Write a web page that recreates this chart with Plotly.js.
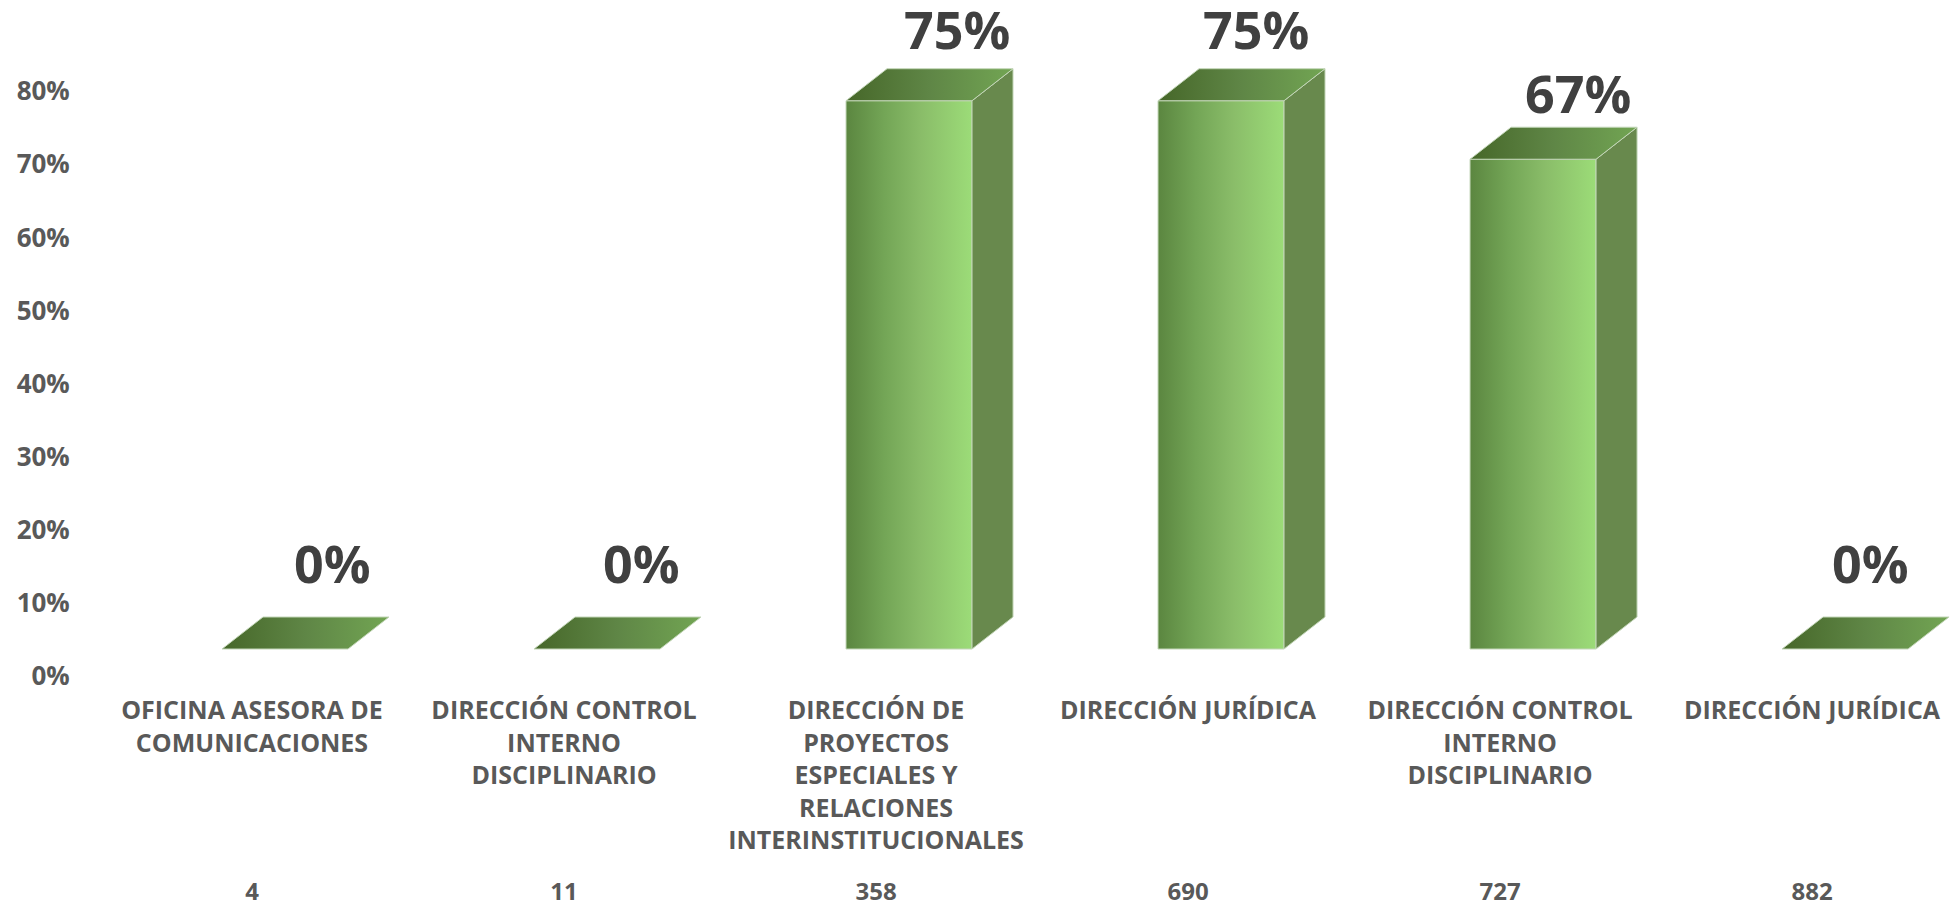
<!DOCTYPE html>
<html><head><meta charset="utf-8">
<script src="https://cdn.plot.ly/plotly-3.0.1.min.js"></script>
<style>html,body{margin:0;padding:0;background:#fff;overflow:hidden}</style></head>
<body><div id="chart" style="width:1959px;height:907px"></div>
<script>
const categories = ["OFICINA ASESORA DE<br>COMUNICACIONES","DIRECCIÓN CONTROL<br>INTERNO<br>DISCIPLINARIO","DIRECCIÓN DE<br>PROYECTOS<br>ESPECIALES Y<br>RELACIONES<br>INTERINSTITUCIONALES","DIRECCIÓN JURÍDICA","DIRECCIÓN CONTROL<br>INTERNO<br>DISCIPLINARIO","DIRECCIÓN JURÍDICA"];
const ids = ["4","11","358","690","727","882"];
const values = [0,0,75,75,67,0];
const valueLabels = ["0%","0%","75%","75%","67%","0%"];
const yTicks = [0,10,20,30,40,50,60,70,80];

// styling / layout only
const FONT = "'Open Sans', sans-serif";
const pxPerUnitY = 7.31, slotPx = 312;
const barLeft = -30/slotPx, barW = 126/slotPx, depthX = 41/slotPx, depthY = 32/pxPerUnitY;
const labelDX = [47,44,48,35,45,25], labelDY = [87,87,72,72,67,87];
const idx = categories.map((_,i)=>i);
const light = '#c3d6b8';

const traces = [];
traces.push({type:'bar',x:idx,y:values,width:barW,offset:barLeft,
  marker:{color:'#7fb05c',line:{width:0}},hoverinfo:'skip',showlegend:false});
idx.forEach(i=>{
  const v=values[i], L=i+barLeft, R=L+barW;
  if(v>0){
    traces.push({type:'scatter',mode:'lines',x:[L,R,R,L,L],y:[0,0,v,v,0],fill:'toself',
      line:{color:light,width:1},hoverinfo:'skip',showlegend:false,
      fillgradient:{type:'horizontal',start:L,stop:R,colorscale:[[0,'#5b8640'],[0.3,'#73a556'],[0.6,'#8abd69'],[1,'#9cdc78']]}});
    traces.push({type:'scatter',mode:'lines',x:[R,R+depthX,R+depthX,R,R],y:[0,depthY,v+depthY,v,0],fill:'toself',
      fillcolor:'#68894d',line:{color:light,width:1},hoverinfo:'skip',showlegend:false});
  }
  traces.push({type:'scatter',mode:'lines',x:[L,R,R+depthX,L+depthX,L],y:[v,v,v+depthY,v+depthY,v],fill:'toself',
    line:{color:light,width:1},hoverinfo:'skip',showlegend:false,
    fillgradient:{type:'horizontal',start:L,stop:R+depthX,colorscale:[[0,'#466729'],[0.5,'#5f8646'],[1,'#72a553']]}});
});
traces.push({type:'scatter',mode:'markers',x:idx,y:idx.map(()=>0),xaxis:'x2',yaxis:'y',marker:{opacity:0},hoverinfo:'skip',showlegend:false});
traces.push({type:'scatter',mode:'markers',x:idx,y:idx.map(()=>0),xaxis:'x',yaxis:'y2',marker:{opacity:0},hoverinfo:'skip',showlegend:false});

const xFont = {family:FONT,size:25,color:'#595959',weight:700};
const idFont = {family:FONT,size:24,color:'#595959',weight:700};
const yFont = {family:FONT,size:26,color:'#595959',weight:700};
const layout = {
  width:1959,height:907,margin:{l:96,r:0,t:0,b:221},paper_bgcolor:'#fff',plot_bgcolor:'rgba(0,0,0,0)',showlegend:false,
  xaxis:{range:[-0.5,5.471],tickmode:'array',tickvals:idx,ticktext:categories,tickangle:0,showgrid:false,zeroline:false,showline:false,
    ticks:'outside',ticklen:2,tickcolor:'rgba(0,0,0,0)',tickfont:xFont,automargin:false},
  xaxis2:{overlaying:'x',anchor:'y',side:'bottom',range:[-0.5,5.471],tickmode:'array',tickvals:idx,ticktext:ids,tickangle:0,showgrid:false,zeroline:false,showline:false,
    ticks:'outside',ticklen:184,tickcolor:'rgba(0,0,0,0)',tickfont:idFont,automargin:false},
  yaxis:{range:[-5.062,88.78],showgrid:false,zeroline:false,showline:false,showticklabels:false,ticks:''},
  yaxis2:{overlaying:'y',anchor:'x',side:'left',range:[-1.368,92.48],tickmode:'array',tickvals:yTicks,ticktext:yTicks.map(v=>v+'%'),showgrid:false,zeroline:false,showline:false,
    ticks:'outside',ticklen:20,tickcolor:'rgba(0,0,0,0)',tickfont:yFont,automargin:false},
  bargap:0,
  annotations:idx.map(i=>({xref:'x',yref:'y',x:i+barLeft+barW/2,y:values[i],text:valueLabels[i],showarrow:false,
    xanchor:'center',yanchor:'middle',xshift:labelDX[i],yshift:labelDY[i],font:{family:FONT,size:52,color:'#404040',weight:700}}))
};
Plotly.newPlot('chart',traces,layout,{displayModeBar:false,staticPlot:true});
</script></body></html>
